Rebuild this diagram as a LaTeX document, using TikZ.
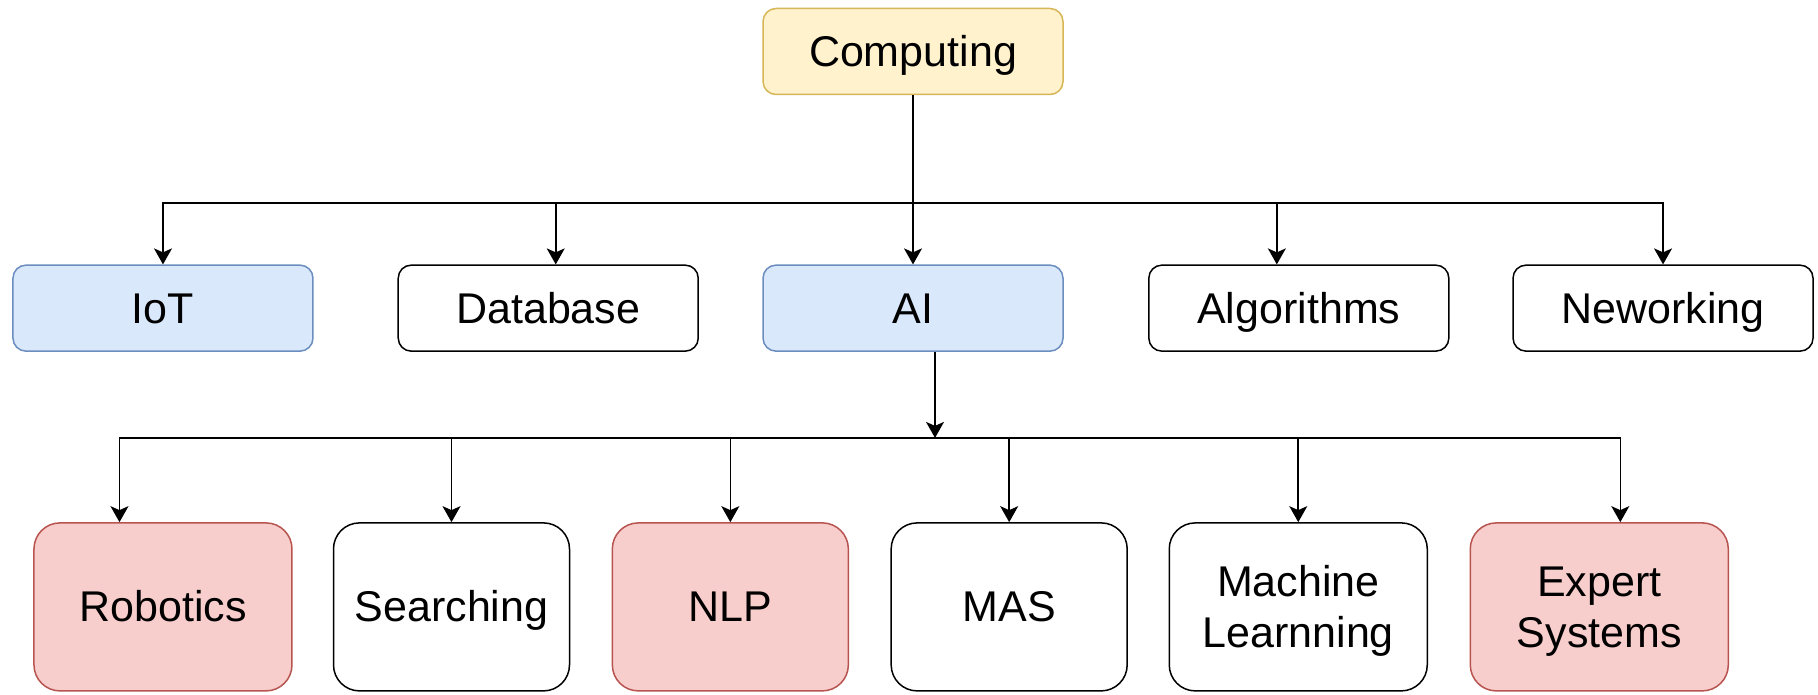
\documentclass[tikz,border=0pt]{standalone}
\usepackage{fontspec}
\setmainfont{Liberation Sans}
\usetikzlibrary{arrows.meta,positioning}

\definecolor{compfill}{HTML}{FFF2CC}
\definecolor{compline}{HTML}{D6B656}
\definecolor{bluefill}{HTML}{DAE8FC}
\definecolor{blueline}{HTML}{6C8EBF}
\definecolor{redfill}{HTML}{F8CECC}
\definecolor{redline}{HTML}{B85450}

\begin{document}
\begin{tikzpicture}[->,>={Stealth[length=8pt,width=9pt,inset=2pt]},line width=0.8pt,node distance=1cm,
    box/.style={draw=black,rectangle,rounded corners=6.5pt,line width=0.75pt,inner sep=0pt,
                minimum width=150pt,minimum height=43pt,align=center,
                text height=15pt,text depth=0pt,
                font=\fontsize{21.5}{25.8}\selectfont},
    topic/.style={box,minimum width=118pt,minimum height=84pt,rounded corners=13pt},
    widetopic/.style={topic,minimum width=129pt},
    twolines/.style={text height=40.8pt},
    compbox/.style={fill=compfill,draw=compline},
    bluebox/.style={fill=bluefill,draw=blueline},
    redbox/.style={fill=redfill,draw=redline}]
        \useasboundingbox (0,0) rectangle (909pt,-347.5pt);

        \node[box,compbox] (Computing) at (456.5pt,-25.75pt)             {Computing};
        \node[box,bluebox] (AI)         [below of=Computing,yshift=-3.51cm] {AI};
        \node[box]         (Database)   [left of=AI,xshift=-5.41cm]       {Database};
        \node[box,bluebox] (IoT)        [left of=Database,xshift=-5.77cm] {IoT};
        \node[box]         (Algorithms) [right of=AI,xshift=5.78cm]       {Algorithms};
        \node[box]         (Neworking)  [right of=Algorithms,xshift=5.40cm] {Neworking};

        \node[widetopic,redbox] (Robotics)  [below of=IoT,yshift=-4.25cm]      {Robotics};
        \node[topic]            (Searching) [right of=Robotics,xshift=4.07cm]  {Searching};
        \node[topic,redbox]     (NLP)       [right of=Searching,xshift=3.90cm] {NLP};
        \node[topic]            (MAS)       [right of=NLP,xshift=3.90cm]       {MAS};
        \node[widetopic,twolines]        (Learning) [right of=MAS,xshift=4.08cm]      {Machine\\Learnning};
        \node[widetopic,twolines,redbox] (Expert)   [right of=Learning,xshift=4.29cm] {Expert\\Systems};

        % first level bus
        \coordinate (bus1) at ([yshift=-54pt]Computing.south);
        \draw (Computing) -- (AI);
        \draw (bus1) -| (IoT.north);
        \draw (bus1) -| ([xshift=3.75pt]Database.north);
        \draw (bus1) -| ([xshift=-11pt]Algorithms.north);
        \draw (bus1) -| (Neworking.north);

        % second level bus
        \coordinate (bus2) at ([xshift=11pt,yshift=-43pt]AI.south);
        \draw ([xshift=11pt]AI.south) -- (bus2);
        \draw (bus2) -| ([xshift=-21.75pt]Robotics.north);
        \draw (bus2) -| (Searching.north);
        \draw (bus2) -| (NLP.north);
        \draw (bus2) -| (MAS.north);
        \draw (bus2) -| (Learning.north);
        \draw (bus2) -| ([xshift=10.5pt]Expert.north);
    \end{tikzpicture}
\end{document}
